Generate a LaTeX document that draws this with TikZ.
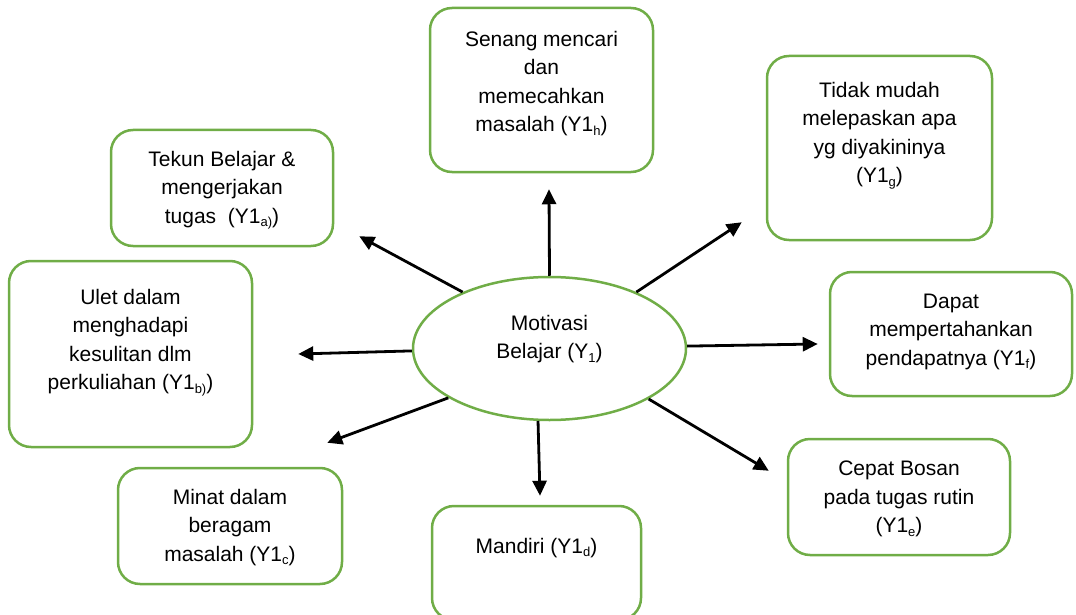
\documentclass[tikz,border=0pt]{standalone}
\usepackage{fontspec}
\setmainfont{Liberation Sans}
\usepackage{xcolor}
\usetikzlibrary{positioning}
\usetikzlibrary{arrows.meta,shapes.geometric}
\definecolor{hijau}{RGB}{112,173,71}
\newcommand{\bawah}[1]{\raisebox{-3.5pt}{\fontsize{13}{13}\selectfont #1}}
\tikzset{
  kotak/.style={draw=hijau, line width=2.5pt, rounded corners=22pt},
  teks/.style={align=center, inner sep=0pt, font=\fontsize{21}{28.5}\selectfont},
  panah/.style={draw=black, line width=2.8pt, -{Triangle[length=15pt,width=14pt]}}
}
\begin{document}
\begin{tikzpicture}[x=1pt, y=-1pt]
    \useasboundingbox (0,0) rectangle (1076,615);
    \node[draw=hijau, line width=2.5pt, ellipse, minimum width=273pt, minimum height=143pt, inner sep=0pt] (M) at (549.5,348.5) {};
    \node[teks] (tM) at ([yshift=9.5pt]M.center) {Motivasi\\Belajar (Y\bawah{1})};
    \node[kotak, minimum width=223pt, minimum height=164pt] (Yh) at (541.5,90) {};
    \node[teks, below=24pt of Yh.north] (tYh) {Senang mencari\\dan\\memecahkan\\masalah (Y1\bawah{h})};
    \node[kotak, minimum width=225pt, minimum height=184pt] (Yg) at (879.5,148) {};
    \node[teks, below=27pt of Yg.north] (tYg) {Tidak mudah\\melepaskan apa\\yg diyakininya\\(Y1\bawah{g})};
    \node[kotak, minimum width=222pt, minimum height=116pt] (Ya) at (222,188) {};
    \node[teks, below=22pt of Ya.north] (tYa) {Tekun Belajar \&\\mengerjakan\\tugas\ \ (Y1\bawah{a)})};
    \node[kotak, minimum width=243pt, minimum height=186pt] (Yb) at (130.5,354) {};
    \node[teks, below=29pt of Yb.north] (tYb) {Ulet dalam\\menghadapi\\kesulitan dlm\\perkuliahan (Y1\bawah{b)})};
    \node[kotak, minimum width=242pt, minimum height=124pt] (Yf) at (951,334) {};
    \node[teks, below=23pt of Yf.north] (tYf) {Dapat\\mempertahankan\\pendapatnya (Y1\bawah{f})};
    \node[kotak, minimum width=222pt, minimum height=116pt] (Ye) at (899,497) {};
    \node[teks, below=23pt of Ye.north] (tYe) {Cepat Bosan\\pada tugas rutin\\(Y1\bawah{e})};
    \node[kotak, minimum width=209pt, minimum height=114pt] (Yd) at (536.5,563) {};
    \node[teks, below=33pt of Yd.north] (tYd) {Mandiri (Y1\bawah{d})};
    \node[kotak, minimum width=224pt, minimum height=116pt] (Yc) at (230,526) {};
    \node[teks, below=22pt of Yc.north] (tYc) {Minat dalam\\beragam\\masalah (Y1\bawah{c})};
    \draw[panah] (M.north) -- ([xshift=7.5pt, yshift=-16pt]Yh.south);
    \draw[panah] (M.33) -- ([xshift=-24pt, yshift=19pt]Yg.south west);
    \draw[panah] (M.147) -- ([xshift=25pt, yshift=11pt]Ya.south east);
    \draw[panah] (M.181) -- ([xshift=45pt]Yb.east);
    \draw[panah] (M.1) -- ([xshift=-11pt, yshift=-10pt]Yf.west);
    \draw[panah] (M.-27) -- ([xshift=-18pt, yshift=-33pt]Ye.north west);
    \draw[panah] (M.261) -- ([xshift=3.5pt, yshift=9pt]Yd.north);
    \draw[panah] (M.206) -- ([xshift=-16pt, yshift=24pt]Yc.north east);
\end{tikzpicture}
\end{document}
